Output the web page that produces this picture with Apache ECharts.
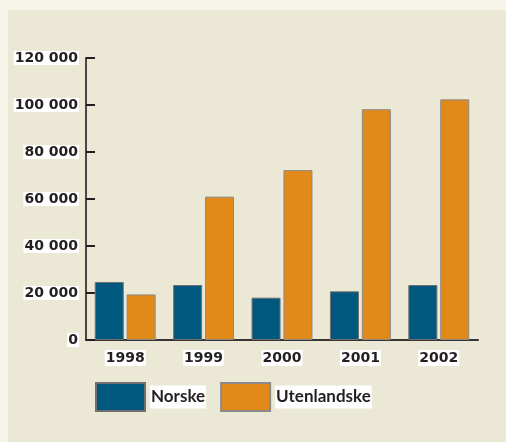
<!DOCTYPE html>
<html><head><meta charset="utf-8">
<script src="https://cdn.jsdelivr.net/npm/echarts@6/dist/echarts.min.js"></script>
<style>html,body{margin:0;padding:0;background:#f6f4e8;}#c{width:506px;height:442px;}</style>
</head><body><div id="c"></div>
<script>
const categories = ['1998', '1999', '2000', '2001', '2002'];
const norske = [24700, 23400, 18000, 20700, 23400];
const utenlandske = [19400, 61000, 72300, 98200, 102400];
const seriesNames = ['Norske', 'Utenlandske'];

const chart = echarts.init(document.getElementById('c'));
const tickFont = '"DejaVu Sans", sans-serif';
const legendFont = 'Lato, "Open Sans", sans-serif';
chart.setOption({
  backgroundColor: '#f6f4e8',
  animation: false,
  graphic: [{
    type: 'rect', left: 8, top: 10, z: -10,
    shape: { width: 498, height: 432 },
    style: { fill: '#ebe8d5' }
  }],
  grid: { left: 86, top: 58, width: 392, height: 282 },
  legend: {
    left: 95, top: 382, padding: 0, itemWidth: 49, itemHeight: 28, itemGap: 14,
    icon: 'rect',
    data: seriesNames,
    textStyle: { fontFamily: legendFont, fontWeight: 'bold', fontSize: 17, color: '#231f20',
      backgroundColor: '#ffffff', padding: [2, 1], lineHeight: 19 }
  },
  xAxis: {
    type: 'category', data: categories,
    axisLine: { lineStyle: { color: '#3a3533', width: 2 } },
    axisTick: { inside: true, length: 7, lineStyle: { color: '#231f20', width: 2 } },
    axisLabel: { margin: 10, fontFamily: tickFont, fontWeight: 'bold', fontSize: 14, color: '#231f20',
      backgroundColor: '#ffffff', padding: [1, 1] }
  },
  yAxis: {
    type: 'value', min: 0, max: 120000, interval: 20000,
    splitLine: { show: false },
    axisLine: { show: true, lineStyle: { color: '#4a4543', width: 2 } },
    axisTick: { show: true, inside: true, length: 9, lineStyle: { color: '#231f20', width: 2 } },
    axisLabel: {
      margin: 7, fontFamily: tickFont, fontWeight: 'bold', fontSize: 14, color: '#231f20',
      backgroundColor: '#ffffff', padding: [0, 1],
      formatter: v => String(v).replace(/\B(?=(\d{3})+(?!\d))/g, ' ')
    }
  },
  series: [
    { name: seriesNames[0], type: 'bar', data: norske, barWidth: 29, barGap: '10%',
      itemStyle: { color: '#00587f', borderColor: '#6f6f6f', borderWidth: 1 } },
    { name: seriesNames[1], type: 'bar', data: utenlandske, barWidth: 29, barGap: '10%',
      itemStyle: { color: '#e28a19', borderColor: '#8a8a8a', borderWidth: 1 } }
  ]
});
</script></body></html>
